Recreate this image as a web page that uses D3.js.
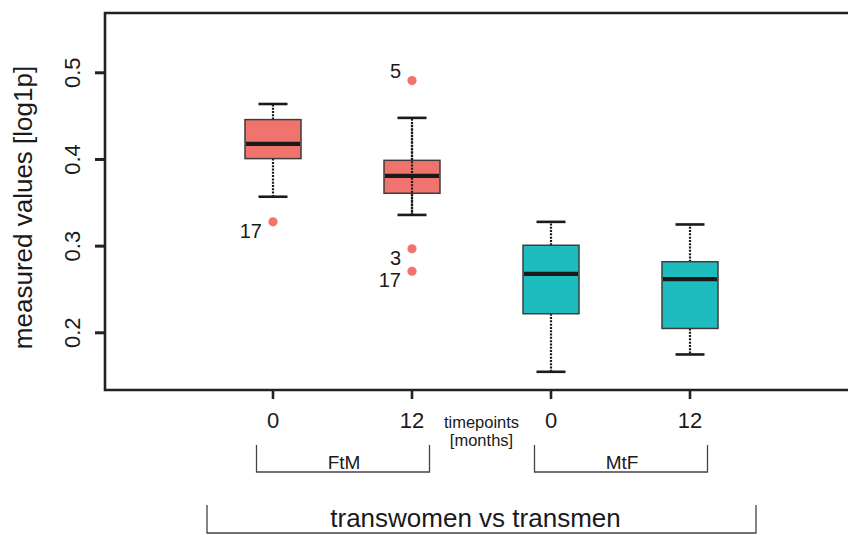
<!DOCTYPE html>
<html lang="en">

<head>
    <meta charset="UTF-8">
    <title>measured values boxplot</title>
    <script src="https://d3js.org/d3.v7.min.js"></script>
    <style>
        body { margin: 0; background: #fff; }
        text { font-family: "Liberation Sans", Arial, sans-serif; fill: #1a1a1a; }
    </style>
</head>

<body>
    <script>
        // groups and timepoints
        var boxKeys = ["FtM_0", "FtM_12", "MtF_0", "MtF_12"];
        var timeLabels = ["0", "12", "0", "12"];
        var groupNames = ["FtM", "FtM", "MtF", "MtF"];
        var boxColors = ["#f1736d", "#f1736d", "#1ebcbf", "#1ebcbf"];

        // box statistics
        var whiskerLow = [0.357, 0.336, 0.155, 0.175];
        var q1 = [0.401, 0.361, 0.222, 0.205];
        var median = [0.418, 0.381, 0.268, 0.262];
        var q3 = [0.446, 0.399, 0.301, 0.282];
        var whiskerHigh = [0.464, 0.448, 0.328, 0.325];

        // outliers: box index, value, sample id
        var outlierBox = [0, 1, 1, 1];
        var outlierValue = [0.328, 0.491, 0.297, 0.271];
        var outlierId = ["17", "5", "3", "17"];
        var outlierAbove = [false, true, false, false];

        var yTicks = [0.2, 0.3, 0.4, 0.5];

        var width = 848, height = 535;
        var svg = d3.select("body").append("svg")
            .attr("width", width)
            .attr("height", height);

        var plotLeft = 105, plotTop = 13, plotBottom = 390;

        var x = d3.scalePoint().domain(boxKeys).range([273, 690]);
        var y = d3.scaleLinear().domain([0.134, 0.569]).range([plotBottom, plotTop]);
        var boxW = 56, capW = 29;

        var boxes = boxKeys.map(function (k, i) {
            return {
                key: k, color: boxColors[i], lo: whiskerLow[i], q1: q1[i],
                med: median[i], q3: q3[i], hi: whiskerHigh[i]
            };
        });

        // whiskers (dotted)
        var g = svg.append("g");
        g.selectAll(".wlow").data(boxes).enter().append("line")
            .attr("x1", d => x(d.key)).attr("x2", d => x(d.key))
            .attr("y1", d => y(d.q1)).attr("y2", d => y(d.lo))
            .attr("stroke", "#1a1a1a").attr("stroke-width", 2.2)
            .attr("stroke-dasharray", "2,1.3");
        g.selectAll(".whigh").data(boxes).enter().append("line")
            .attr("x1", d => x(d.key)).attr("x2", d => x(d.key))
            .attr("y1", d => y(d.q3)).attr("y2", d => y(d.hi))
            .attr("stroke", "#1a1a1a").attr("stroke-width", 2.2)
            .attr("stroke-dasharray", "2,1.3");

        // caps
        ["lo", "hi"].forEach(function (f) {
            g.selectAll(".cap-" + f).data(boxes).enter().append("line")
                .attr("x1", d => x(d.key) - capW / 2).attr("x2", d => x(d.key) + capW / 2)
                .attr("y1", d => y(d[f])).attr("y2", d => y(d[f]))
                .attr("stroke", "#1a1a1a").attr("stroke-width", 2.6);
        });

        // boxes
        g.selectAll(".box").data(boxes).enter().append("rect")
            .attr("x", d => x(d.key) - boxW / 2)
            .attr("width", boxW)
            .attr("y", d => y(d.q3))
            .attr("height", d => y(d.q1) - y(d.q3))
            .attr("fill", d => d.color)
            .attr("stroke", "#3c3c3c").attr("stroke-width", 1.5);

        // the second box has its whisker drawn through the box
        var through = boxes[1];
        g.append("line")
            .attr("x1", x(through.key)).attr("x2", x(through.key))
            .attr("y1", y(through.hi) + 7).attr("y2", y(through.lo))
            .attr("stroke", "#1a1a1a").attr("stroke-width", 2.2)
            .attr("stroke-dasharray", "2,1.3");

        // medians
        g.selectAll(".med").data(boxes).enter().append("line")
            .attr("x1", d => x(d.key) - boxW / 2 + 1).attr("x2", d => x(d.key) + boxW / 2 - 1)
            .attr("y1", d => y(d.med)).attr("y2", d => y(d.med))
            .attr("stroke", "#1a1a1a").attr("stroke-width", 4.2);

        // outliers
        var outliers = outlierValue.map(function (v, i) {
            return { key: boxKeys[outlierBox[i]], v: v, id: outlierId[i], above: outlierAbove[i], color: boxColors[outlierBox[i]] };
        });
        g.selectAll(".out").data(outliers).enter().append("circle")
            .attr("cx", d => x(d.key)).attr("cy", d => y(d.v))
            .attr("r", 4.6).attr("fill", d => d.color);
        g.selectAll(".outlab").data(outliers).enter().append("text")
            .attr("x", d => x(d.key) - 11)
            .attr("y", d => y(d.v) + (d.above ? -10 : 9))
            .attr("dy", "0.36em")
            .attr("text-anchor", "end")
            .style("font-size", "20px")
            .text(d => d.id);

        // frame: open on the right
        var frame = svg.append("g").attr("stroke", "#222").attr("stroke-width", 2.6).attr("fill", "none");
        frame.append("path").attr("d", "M" + width + "," + plotTop + "H" + plotLeft + "V" + plotBottom + "H" + width);

        // y axis
        var yAxis = svg.append("g");
        yAxis.selectAll("line").data(yTicks).enter().append("line")
            .attr("x1", plotLeft - 10).attr("x2", plotLeft)
            .attr("y1", d => y(d)).attr("y2", d => y(d))
            .attr("stroke", "#222").attr("stroke-width", 3);
        yAxis.selectAll("text").data(yTicks).enter().append("text")
            .attr("transform", d => "translate(80," + y(d) + ") rotate(-90)")
            .attr("text-anchor", "middle")
            .style("font-size", "22px")
            .text(d => d3.format(".1f")(d));
        svg.append("text")
            .attr("transform", "translate(32," + ((plotTop + plotBottom) / 2 + 6) + ") rotate(-90)")
            .attr("text-anchor", "middle")
            .style("font-size", "26px")
            .text("measured values [log1p]");

        // x axis
        var xAxis = svg.append("g");
        xAxis.selectAll("line").data(boxKeys).enter().append("line")
            .attr("x1", d => x(d)).attr("x2", d => x(d))
            .attr("y1", plotBottom).attr("y2", plotBottom + 9)
            .attr("stroke", "#222").attr("stroke-width", 2.6);
        xAxis.selectAll("text").data(boxKeys).enter().append("text")
            .attr("x", d => x(d)).attr("y", 428)
            .attr("text-anchor", "middle")
            .style("font-size", "22px")
            .text((d, i) => timeLabels[i]);

        var mid = (x(boxKeys[1]) + x(boxKeys[2])) / 2;
        svg.append("text").attr("x", mid).attr("y", 428).attr("text-anchor", "middle")
            .style("font-size", "16.5px").text("timepoints");
        svg.append("text").attr("x", mid).attr("y", 446).attr("text-anchor", "middle")
            .style("font-size", "16.5px").text("[months]");

        // group brackets
        function bracket(x0, x1, y0, y1, label, size, ty, tdx) {
            svg.append("path")
                .attr("d", "M" + x0 + "," + y0 + "V" + y1 + "H" + x1 + "V" + y0)
                .attr("fill", "none").attr("stroke", "#444").attr("stroke-width", 1.3);
            svg.append("text").attr("x", (x0 + x1) / 2 + tdx).attr("y", ty)
                .attr("text-anchor", "middle").style("font-size", size).text(label);
        }
        var groups = ["FtM", "MtF"];
        groups.forEach(function (gname) {
            var ks = boxKeys.filter((k, i) => groupNames[i] === gname);
            bracket(x(ks[0]) - 16.5, x(ks[ks.length - 1]) + 17.5, 445, 472, gname, "19px", 469, 1);
        });
        bracket(x(boxKeys[0]) - 66, x(boxKeys[3]) + 66, 505, 533, "transwomen vs transmen", "26px", 527, -6);
    </script>
</body>
</html>
